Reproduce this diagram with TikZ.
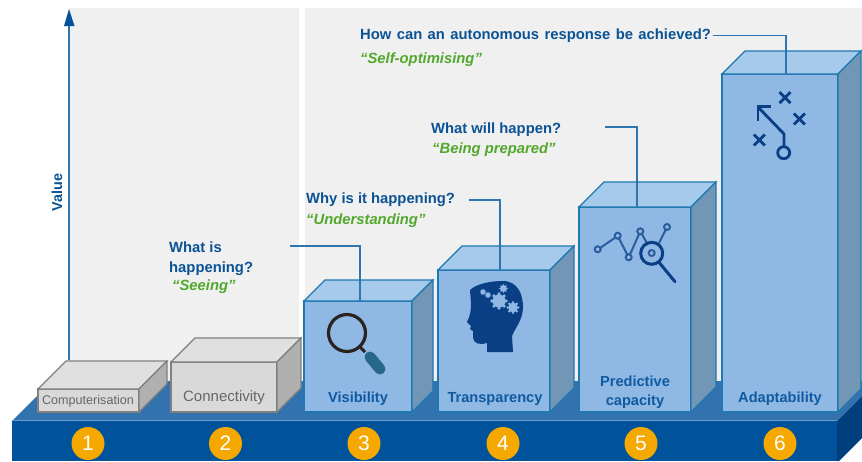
\documentclass[tikz,border=0pt]{standalone}
\usepackage{fontspec}
\setmainfont{Liberation Sans}
\usetikzlibrary{calc}
\definecolor{blueT}{HTML}{0B5394}
\definecolor{greenT}{HTML}{52A82C}
\definecolor{blueL}{HTML}{0F5AA0}
\definecolor{lineB}{HTML}{2F75B0}
\definecolor{orangeN}{HTML}{F5A800}
\definecolor{navyI}{HTML}{0A3F85}
\definecolor{front}{HTML}{8FB8E4}
\definecolor{topc}{HTML}{A6CAEC}
\definecolor{sidec}{HTML}{7296B6}
\definecolor{edge}{HTML}{1F78B0}
\definecolor{gfront}{HTML}{D9D9D9}
\definecolor{gtop}{HTML}{E0E0E0}
\definecolor{gside}{HTML}{B0B0B0}
\definecolor{gedge}{HTML}{808080}
\definecolor{plat}{HTML}{3272AE}
\definecolor{platf}{HTML}{00539B}
\definecolor{plats}{HTML}{003F7D}
\definecolor{bggrey}{HTML}{F0F0F0}
\definecolor{lenshandle}{HTML}{27678A}
\definecolor{lensring}{HTML}{2A2420}
\tikzset{
 x=1pt,y=-1pt,
 q/.style={font=\bfseries\fontsize{14.8}{20}\selectfont,text=blueT,anchor=west,inner sep=0pt,align=left},
 g/.style={font=\bfseries\itshape\fontsize{14.8}{18}\selectfont,text=greenT,anchor=west,inner sep=0pt},
 lab/.style={font=\bfseries\fontsize{14.6}{19.5}\selectfont,text=blueL,inner sep=0pt,align=center},
 leader/.style={draw=lineB,line width=1.1pt},
 num/.style={circle,fill=orangeN,text=white,minimum size=33pt,inner sep=0pt,font=\fontsize{21}{21}\selectfont},
 ico/.style={draw=navyI,line width=2.8pt},
 dot/.style={draw=navyI!75!front,line width=2pt},
}
\newcommand{\bluebox}[5]{% x0 y0 x1 y1 depth
 \fill[front,draw=edge,line width=1.1pt] (#1,#2) rectangle (#3,#4);
 \fill[topc,draw=edge,line width=1.1pt] (#1,#2) -- ({#1+#5},{#2-#5}) -- ({#3+#5},{#2-#5}) -- (#3,#2) -- cycle;
 \fill[sidec,draw=edge,line width=1.1pt] (#3,#2) -- ({#3+#5},{#2-#5}) -- ({#3+#5},{#4-#5}) -- (#3,#4) -- cycle;
}
\newcommand{\greybox}[5]{%
 \fill[gfront,draw=gedge,line width=1.1pt] (#1,#2) rectangle (#3,#4);
 \fill[gtop,draw=gedge,line width=1.1pt] (#1,#2) -- ({#1+#5},{#2-#5}) -- ({#3+#5},{#2-#5}) -- (#3,#2) -- cycle;
 \fill[gside,draw=gedge,line width=1.1pt] (#3,#2) -- ({#3+#5},{#2-#5}) -- ({#3+#5},{#4-#5}) -- (#3,#4) -- cycle;
}
\newcommand{\gear}[3]{% x y r
 \fill[front] (#1,#2) circle ({#3*0.82});
 \foreach \a in {0,45,...,315}{\fill[front] ($(#1,#2)+(\a:{#3*0.9})$) circle ({#3*0.22});}
}
\begin{document}
\begin{tikzpicture}
\useasboundingbox (0,0) rectangle (862,461);
\fill[white] (0,0) rectangle (862,461);
\fill[bggrey] (69,8) rectangle (299,400);
\fill[bggrey] (305,8) rectangle (862,400);
% platform
\fill[plat] (12,421) -- (52,381) -- (862,381) -- (862,396) -- (837,421) -- cycle;
\fill[platf] (12,421) rectangle (837,461);
\fill[plats] (837,421) -- (862,396) -- (862,438) -- (839,461) -- (837,461) -- cycle;
\draw[color=lineB!70!white,line width=.8pt] (12,420.5) -- (837,420.5);
% axis
\coordinate (axb) at (69,360);
\coordinate (axt) at (69,9);
\draw[lineB,line width=1.4pt] (axb) -- (69,26);
\fill[platf] (axt) -- (74.5,26) -- (64,26) -- cycle;
\node[rotate=90,font=\bfseries\fontsize{14.4}{16}\selectfont,text=blueT,inner sep=0pt] (val) at (57,192.5) {Value};
% grey boxes
\greybox{38}{389}{139}{412}{28}
\node[font=\fontsize{12.6}{14}\selectfont,text=black!60,inner sep=0pt] (comp) at (88,401.5) {Computerisation};
\greybox{171}{362}{277}{412}{24}
\node[font=\fontsize{15}{17}\selectfont,text=black!60,inner sep=0pt] (conn) at (224,398) {Connectivity};
% blue boxes
\bluebox{304}{301}{412}{412}{21}
\bluebox{438}{270}{550}{412}{24}
\bluebox{579}{207}{691}{412}{25}
\bluebox{722}{74}{838}{412}{23}
\node[lab] (l3) at (358,398.5) {Visibility};
\node[lab] (l4) at (495,398.5) {Transparency};
\node[lab] (l5) at (635,392) {Predictive\\capacity};
\node[lab] (l6) at (780,398.5) {Adaptability};
% leaders
\coordinate (a3) at (290,246); \coordinate (b3) at (360,246); \coordinate (c3) at (360,301);
\draw[leader] (a3) -- (b3) -- (c3);
\coordinate (a4) at (469,200); \coordinate (b4) at (500,200); \coordinate (c4) at (500,270);
\draw[leader] (a4) -- (b4) -- (c4);
\coordinate (a5) at (605,127); \coordinate (b5) at (637,127); \coordinate (c5) at (637,207);
\draw[leader] (a5) -- (b5) -- (c5);
\coordinate (a6) at (713,35.5); \coordinate (b6) at (786,35.5); \coordinate (c6) at (786,74);
\draw[leader] (a6) -- (b6) -- (c6);
% text
\node[q] (q3) at (169,259) {What is\\happening?};
\node[g] (g3) at (172,287) {“Seeing”};
\node[q] (q4) at (306,200) {Why is it happening?};
\node[g] (g4) at (306,221) {“Understanding”};
\node[q] (q5) at (431,130) {What will happen?};
\node[g] (g5) at (432,150) {“Being prepared”};
\node[q] (q6) at (360,36) {\spaceskip=5.4pt How can an autonomous response be achieved?};
\node[g] (g6) at (360,60) {“Self-optimising”};
% numbers
\foreach \n/\x in {1/88,2/225.5,3/364,4/503,5/641,6/780}{
 \node[num] (n\n) at (\x,443.5) {\n};
}
% magnifier
\draw[color=lensring,line width=3.2pt] (347,333) circle (18.5);
\draw[color=lensring,line width=3pt] (360,347) -- (365,352);
\draw[color=lenshandle,line width=11pt,line cap=round] (370,357) -- (380,369);
% head
\fill[navyI] (470,290) .. controls (476,284) and (490,281) .. (503,281)
 .. controls (518,281) and (523,295) .. (523,307)
 .. controls (523,320) and (515,328) .. (512,336) -- (513,352) -- (487,352) -- (487,343)
 .. controls (480,345) and (474,344) .. (473,338) -- (473,331) -- (470,329) -- (471,326) -- (467,322)
 .. controls (470,316) and (471,312) .. (471,303) -- cycle;
\gear{499}{301}{8}
\gear{513}{307.5}{6}
\gear{503.5}{288.5}{4}
\gear{483}{292}{3}
\gear{488}{295}{3}
% chart
\draw[dot] (597.7,249.6) -- (617.7,236) (617.7,236) -- (628.7,257.3) (628.7,257.3) -- (640.3,231.3) (640.3,231.3) -- (648,245) (659,243) -- (667,227);
\foreach \px/\py in {597.7/249.3,617.7/235.7,628.7/257.3,640.3/231.3,667/227,651.7/253}{\fill[front] (\px,\py) circle (3);\draw[dot] (\px,\py) circle (3);}
\draw[ico,line width=3pt] (651.7,253.3) circle (11);
\draw[ico,line width=3pt,line cap=round] (659.3,262.7) -- (675,281.7);
% playbook
\draw[ico] (783.7,152.7) circle (6);
\draw[ico] (784,146.5) -- (784,134) -- (758,107);
\draw[ico] (758,121) -- (758,106.7) -- (771,106.7);
\foreach \cx/\cy in {785/97.7,799.3/119,759.3/140}{
 \draw[ico] ({\cx-5.5},{\cy-5.5}) -- ({\cx+5.5},{\cy+5.5}) ({\cx-5.5},{\cy+5.5}) -- ({\cx+5.5},{\cy-5.5});
}
\end{tikzpicture}
\end{document}
